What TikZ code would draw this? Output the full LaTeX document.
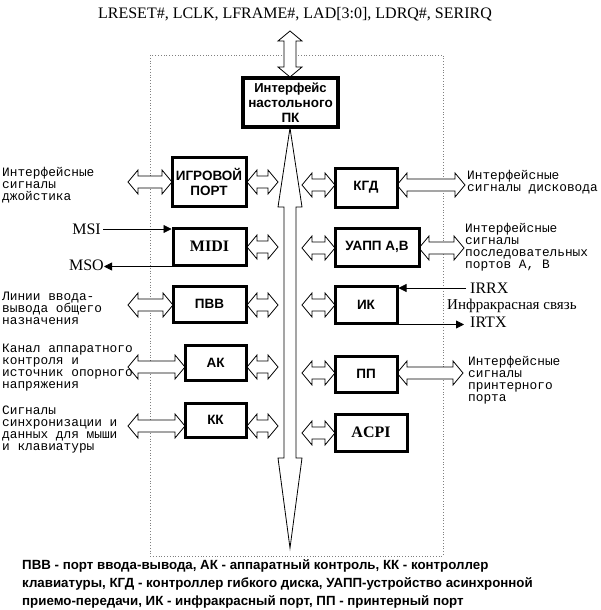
\documentclass[tikz,border=0pt]{standalone}
\usepackage{fontspec}
\setmainfont{Liberation Serif}
\newfontfamily\boxfont{Liberation Sans}
\newfontfamily\lblfont{Liberation Mono}
\usetikzlibrary{arrows.meta}
\tikzset{
  blk/.style={draw, line width=3pt, inner sep=0pt, align=center, fill=white,
    font=\boxfont\bfseries\fontsize{13.5}{15}\selectfont},
  serifblk/.style={blk, font=\bfseries\fontsize{16}{18}\selectfont},
  lbl/.style={inner sep=0pt, anchor=west, align=left,
    font=\lblfont\fontsize{12.8}{12}\selectfont},
  sig/.style={inner sep=0pt, font=\fontsize{16}{18}\selectfont},
  blockarrow/.style={draw, fill=white, line width=0.8pt, line join=miter},
  sigarrow/.style={line width=0.8pt, -{Triangle[length=8pt,width=8pt]}},
  frame/.style={dotted, gray, line width=0.8pt}
}
\newcommand\hda[3]{%
  \path[blockarrow] (#1,#3) -- (#1+10,#3-12) -- (#1+10,#3-6) -- (#2-10,#3-6)
    -- (#2-10,#3-12) -- (#2,#3) -- (#2-10,#3+12) -- (#2-10,#3+6)
    -- (#1+10,#3+6) -- (#1+10,#3+12) -- cycle;}
\begin{document}
\begin{tikzpicture}[x=1pt, y=-1pt]
\useasboundingbox (0,0) rectangle (600,610);
\fill[white] (0,0) rectangle (600,610);
% frame
\draw[frame] (150,55) rectangle (443,556);
% title
\node[sig] (title) at (295,14) {LRESET\#, LCLK, LFRAME\#, LAD[3:0], LDRQ\#, SERIRQ};
% top double arrow
\path[blockarrow] (290,31) -- (302,41) -- (296,41) -- (296,67) -- (302,67) -- (290,77)
  -- (278,67) -- (284,67) -- (284,41) -- (278,41) -- cycle;
% bus
\path[blockarrow] (290,128) -- (302,207) -- (296,207) -- (296,458) -- (302,458) -- (290,548)
  -- (278,458) -- (284,458) -- (284,207) -- (278,207) -- cycle;
% block arrows, left column
\hda{128}{172}{182} \hda{247}{278}{182}
\hda{247}{278}{247}
\hda{128}{173}{305} \hda{247}{278}{305}
\hda{128}{185}{367} \hda{247}{278}{367}
\hda{128}{185}{426} \hda{247}{278}{426}
% block arrows, right column
\hda{302}{335}{185} \hda{397}{465}{185}
\hda{302}{335}{248} \hda{419}{464}{248}
\hda{302}{335}{305}
\hda{302}{335}{373} \hda{397}{463}{373}
\hda{302}{335}{433}
% boxes
\node[blk, line width=4pt, minimum width=95pt, minimum height=49pt] (pc) at (290.5,102.5)
  {\fontsize{13}{14}\selectfont Интерфейс\\настольного\\ПК};
\node[blk, minimum width=74pt, minimum height=49pt] (game) at (209,181.5) {ИГРОВОЙ\\ПОРТ};
\node[serifblk, minimum width=73pt, minimum height=37pt] (midi) at (209.5,246.5) {MIDI};
\node[blk, minimum width=73pt, minimum height=36pt] (pvv) at (209.5,304) {ПВВ};
\node[blk, minimum width=61pt, minimum height=35pt] (ak) at (215.5,362.5) {АК};
\node[blk, minimum width=61pt, minimum height=34pt] (kk) at (215.5,420) {КК};
\node[blk, minimum width=62pt, minimum height=39pt] (kgd) at (366,187.5) {КГД};
\node[blk, minimum width=84pt, minimum height=38pt] (uapp) at (377,247) {УАПП А,В};
\node[blk, minimum width=62pt, minimum height=37pt] (ik) at (366,304.5) {ИК};
\node[blk, minimum width=62pt, minimum height=36pt] (pp) at (366,374) {ПП};
\node[serifblk, minimum width=72pt, minimum height=37pt] (acpi) at (371,432.5) {ACPI};
% left labels
\node[lbl] (ljoy) at (2,185) {Интерфейсные\\сигналы\\джойстика};
\node[lbl] (lgpio) at (2,308) {Линии ввода-\\вывода общего\\назначения};
\node[lbl] (lhw) at (2,368) {Канал аппаратного\\контроля и\\источник опорного\\напряжения};
\node[lbl] (lkbd) at (2,430) {Сигналы\\синхронизации и\\данных для мыши\\и клавиатуры};
% right labels
\node[lbl] (rfdd) at (467,182) {Интерфейсные\\сигналы дисковода};
\node[lbl] (rser) at (465,247) {Интерфейсные\\сигналы\\последовательных\\портов А, В};
\node[lbl] (rlpt) at (468,380) {Интерфейсные\\сигналы\\принтерного\\порта};
% signal labels and arrows
\node[sig, anchor=east] (msi) at (101,229) {MSI};
\node[sig, anchor=east] (mso) at (104,265) {MSO};
\draw[sigarrow] ([xshift=2pt]msi.east) -- (msi.east -| midi.west);
\draw[sigarrow] (midi.south west) -- (mso.east |- midi.south west);
\node[sig, anchor=west] (irrx) at (470,288) {IRRX};
\node[sig, anchor=west, font=\fontsize{15}{17}\selectfont] (irlink) at (447,306) {Инфракрасная связь};
\node[sig, anchor=west] (irtx) at (470,322) {IRTX};
\draw[sigarrow] ([xshift=-4pt]irrx.west) -- (irrx.west -| ik.east);
\draw[sigarrow] (ik.south east) -- ([xshift=-6pt]irtx.west |- ik.south east);
% legend
\node[anchor=north west, inner sep=0pt, align=left,
  font=\boxfont\bfseries\fontsize{13.3}{18}\selectfont] (legend) at (22,559)
  {ПВВ - порт ввода-вывода, АК - аппаратный контроль, КК - контроллер\\
   клавиатуры, КГД - контроллер гибкого диска, УАПП-устройство асинхронной\\
   приемо-передачи, ИК - инфракрасный порт, ПП - принтерный порт};
\end{tikzpicture}
\end{document}
